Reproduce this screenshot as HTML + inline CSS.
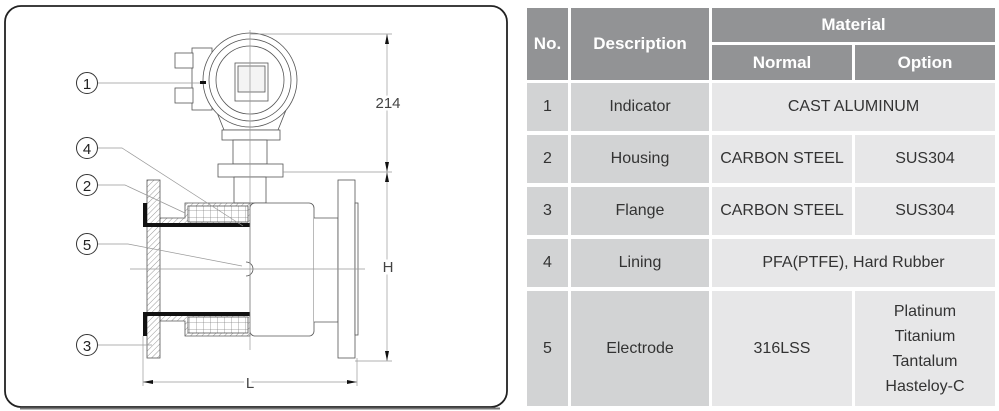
<!DOCTYPE html>
<html><head><meta charset="utf-8"><style>
body{margin:0;width:999px;height:411px;background:#fff;position:relative;overflow:hidden;font-family:"Liberation Sans","Noto Sans CJK KR",sans-serif}
.c{position:absolute;display:flex;align-items:center;justify-content:center;text-align:center;font-size:16px;color:#333}
.h{background:#929395;color:#fff;font-weight:bold;font-size:17px}
.d{background:#d2d3d4}
.m{background:#e7e7e8}
</style></head><body>
<svg width="520" height="411" style="position:absolute;left:0;top:0" font-family="Liberation Sans, sans-serif">
<defs>
<pattern id="hat" width="4" height="4" patternUnits="userSpaceOnUse" patternTransform="rotate(45)"><line x1="0" y1="0" x2="0" y2="4" stroke="#999" stroke-width="1"/></pattern>
<pattern id="grid" width="7" height="7" patternUnits="userSpaceOnUse"><rect width="7" height="7" fill="#fff"/><path d="M0 0H7M0 0V7" stroke="#888" stroke-width="0.8"/></pattern>
</defs>
<rect x="5" y="6" width="502" height="401" rx="16" fill="#fff" stroke="#222" stroke-width="1.8"/>
<line x1="20" y1="408.5" x2="500" y2="408.5" stroke="#777" stroke-width="2"/>
<g stroke="#555" stroke-width="0.8" fill="#fff">
<rect x="192" y="48" width="20" height="62"/>
<rect x="175" y="53" width="18" height="15"/><rect x="175" y="88" width="18" height="15"/>
<path d="M216 110 L224 130 H278 L286 110 Z"/>
<rect x="222" y="130" width="58" height="10"/>
<circle cx="250" cy="80" r="47"/>
<circle cx="250" cy="80" r="41"/>
<circle cx="250" cy="80" r="34"/>
<rect x="235" y="63" width="33" height="38"/>
<rect x="238" y="66" width="27" height="26" fill="#f4f4f4"/>
<rect x="233" y="140" width="34" height="24"/>
<rect x="218" y="164" width="65" height="13"/>
<rect x="234" y="177" width="32" height="26"/>
<rect x="250" y="203" width="64" height="133" rx="5"/>
<path d="M314 218 H338 V322 H314"/>
<rect x="338" y="180" width="17" height="178"/>
<rect x="355" y="203" width="3" height="132"/>
<rect x="147" y="180" width="13" height="178" fill="url(#hat)"/>
<path d="M160 218 H185 V203 H250 V225 H160 Z" fill="url(#hat)"/>
<path d="M160 321 H185 V336 H250 V314 H160 Z" fill="url(#hat)"/>
<rect x="188" y="206" width="60" height="16" fill="url(#grid)"/>
<rect x="188" y="317" width="60" height="16" fill="url(#grid)"/>
<path d="M246 262 a7 7 0 0 1 0 14" fill="#fff"/>
</g>
<g fill="#111"><rect x="143" y="223" width="107" height="4"/><rect x="143" y="203" width="4" height="24"/>
<rect x="143" y="312" width="107" height="4"/><rect x="143" y="312" width="4" height="24"/></g>
<g stroke="#999" stroke-width="0.7" fill="none">
<line x1="250" y1="30" x2="250" y2="350"/><line x1="130" y1="269" x2="365" y2="269"/>
<line x1="250" y1="34" x2="392" y2="34"/><line x1="283" y1="172" x2="392" y2="172"/><line x1="355" y1="361" x2="392" y2="361"/>
<line x1="387" y1="34" x2="387" y2="361"/>
<line x1="143" y1="336" x2="143" y2="386"/><line x1="357" y1="358" x2="357" y2="386"/>
<line x1="143" y1="382" x2="357" y2="382"/>
<path d="M98 83 H205"/><path d="M98 148 H122 L243 226"/><path d="M98 185 H125 L185 213"/><path d="M98 244 H128 L242 266"/><path d="M98 345 H152"/>
</g>
<g fill="#111">
<path d="M387 34 l-2 10 h4z"/><path d="M387 172 l-2 -10 h4z"/><path d="M387 172 l-2 10 h4z"/><path d="M387 361 l-2 -10 h4z"/>
<path d="M143 382 l10 -2 v4z"/><path d="M357 382 l-10 -2 v4z"/>
<rect x="200" y="81" width="6" height="3"/>
</g>
<g fill="#fff" stroke="#333" stroke-width="1">
<circle cx="87" cy="83" r="10.5"/><circle cx="87" cy="148" r="10.5"/><circle cx="87" cy="185" r="10.5"/><circle cx="87" cy="244" r="10.5"/><circle cx="87" cy="345" r="10.5"/>
</g>
<g font-size="15" fill="#222" text-anchor="middle">
<text x="87" y="89">1</text><text x="87" y="154">4</text><text x="87" y="191">2</text><text x="87" y="250">5</text><text x="87" y="351">3</text>
<text x="388" y="108" fill="#444" style="paint-order:stroke" stroke="#fff" stroke-width="5">214</text>
<text x="388" y="272" fill="#444" style="paint-order:stroke" stroke="#fff" stroke-width="5">H</text>
<text x="250" y="388" fill="#444" style="paint-order:stroke" stroke="#fff" stroke-width="6">L</text>
</g>
</svg>
<div class="c h" style="left:527px;top:8px;width:41px;height:72px">No.</div>
<div class="c h" style="left:571px;top:8px;width:138px;height:72px">Description</div>
<div class="c h" style="left:712px;top:8px;width:283px;height:34px">Material</div>
<div class="c h" style="left:712px;top:45px;width:140px;height:35px">Normal</div>
<div class="c h" style="left:855px;top:45px;width:140px;height:35px">Option</div>

<div class="c d" style="left:527px;top:83px;width:41px;height:48px">1</div>
<div class="c d" style="left:571px;top:83px;width:138px;height:48px">Indicator</div>
<div class="c m" style="left:712px;top:83px;width:283px;height:48px">CAST ALUMINUM</div>

<div class="c d" style="left:527px;top:135px;width:41px;height:48px">2</div>
<div class="c d" style="left:571px;top:135px;width:138px;height:48px">Housing</div>
<div class="c m" style="left:712px;top:135px;width:140px;height:48px">CARBON STEEL</div>
<div class="c m" style="left:855px;top:135px;width:140px;height:48px">SUS304</div>

<div class="c d" style="left:527px;top:187px;width:41px;height:48px">3</div>
<div class="c d" style="left:571px;top:187px;width:138px;height:48px">Flange</div>
<div class="c m" style="left:712px;top:187px;width:140px;height:48px">CARBON STEEL</div>
<div class="c m" style="left:855px;top:187px;width:140px;height:48px">SUS304</div>

<div class="c d" style="left:527px;top:239px;width:41px;height:48px">4</div>
<div class="c d" style="left:571px;top:239px;width:138px;height:48px">Lining</div>
<div class="c m" style="left:712px;top:239px;width:283px;height:48px">PFA(PTFE), Hard Rubber</div>

<div class="c d" style="left:527px;top:291px;width:41px;height:115px">5</div>
<div class="c d" style="left:571px;top:291px;width:138px;height:115px">Electrode</div>
<div class="c m" style="left:712px;top:291px;width:140px;height:115px">316LSS</div>
<div class="c m" style="left:855px;top:291px;width:140px;height:115px;line-height:25px">Platinum<br>Titanium<br>Tantalum<br>Hasteloy-C</div>
</body></html>
